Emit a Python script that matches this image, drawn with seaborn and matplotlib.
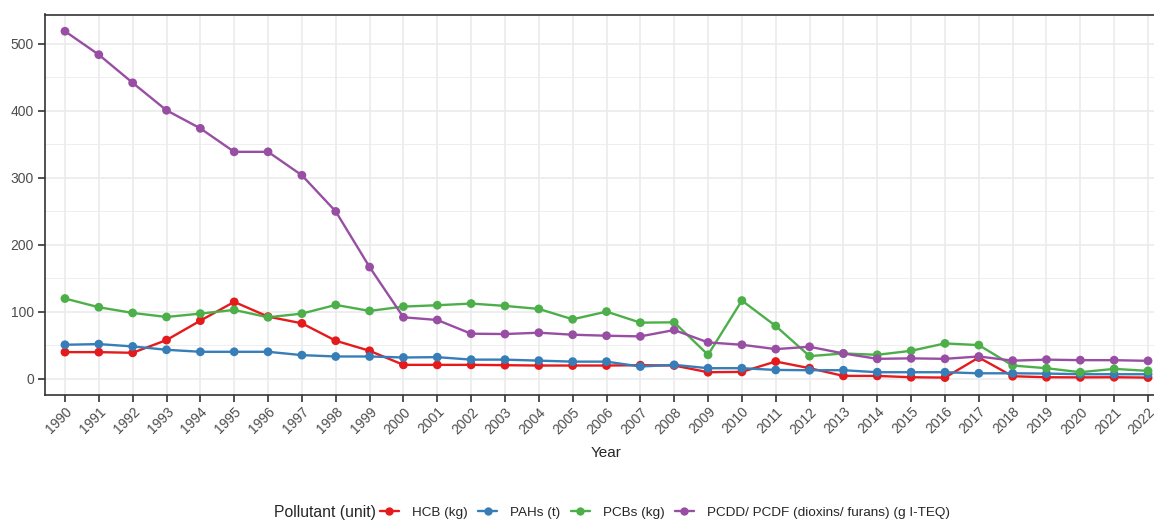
import matplotlib
matplotlib.use('Agg')
import matplotlib.pyplot as plt
from matplotlib.lines import Line2D
from matplotlib.ticker import MultipleLocator
import seaborn as sns
import pandas as pd

# Данные
years = list(range(1990, 2023))

hcb = [40, 40, 39, 58, 87, 115, 93, 83, 57, 42, 21, 21, 21, 20.5, 20, 20, 20, 20.5, 20,
       10, 10.5, 26, 16, 4.5, 4.5, 2.5, 2, 32, 4, 2.5, 2.3, 2.5, 2]
pahs = [51, 52, 48.5, 43.5, 40.5, 40.5, 40.5, 35.5, 33.5, 33.5, 32, 32.5, 28.8, 28.8, 27.3,
        25.8, 25.8, 18.5, 21, 16, 16, 13.4, 13, 13, 10, 10, 10, 8.4, 8.4, 8, 7, 7, 7]
pcbs = [120, 107, 98.5, 92.5, 97.5, 103, 92, 97.5, 110.5, 101.5, 108, 110, 112.5, 109,
        104.5, 89, 100.5, 84, 84.5, 36, 117, 79, 34, 38, 36, 42, 53, 50.5, 20, 16, 10, 15, 12]
pcdd = [519, 484, 442, 401, 374, 339, 339, 304, 250, 167, 92, 88, 67.5, 67, 69, 66, 64.5,
        63.5, 73, 54.5, 51, 44.5, 48, 38, 30, 30.7, 30, 33.5, 27.3, 28.8, 28, 28, 27]

pollutants = ['HCB (kg)', 'PAHs (t)', 'PCBs (kg)', 'PCDD/ PCDF (dioxins/ furans) (g I-TEQ)']
colors = ['#E41A1C', '#377EB8', '#4DAF4A', '#984EA3']

df = pd.DataFrame({
    'Year': years * 4,
    'Value': hcb + pahs + pcbs + pcdd,
    'Pollutant': [p for p in pollutants for _ in years],
})
palette = dict(zip(pollutants, colors))

sns.set_style('white')
plt.rcParams['font.family'] = ['Liberation Sans', 'DejaVu Sans']

W, H = 1154, 524
fig = plt.figure(figsize=(W / 100, H / 100), dpi=100)
# правый край панели обрезан, как на исходной картинке
ax = fig.add_axes([45 / W, 1 - 395 / H, (1168 - 45) / W, (395 - 14.5) / H])

# сначала линии, потом точки (как в ggplot)
sns.lineplot(data=df, x='Year', y='Value', hue='Pollutant', palette=palette,
             linewidth=1.7, ax=ax, legend=False, zorder=3)
sns.scatterplot(data=df, x='Year', y='Value', hue='Pollutant', palette=palette,
                s=40, linewidth=0, ax=ax, legend=False, zorder=4)

ax.set_xlim(1989.41, 2022.59)
ax.set_ylim(-24, 544)
ax.set_xticks(years)
ax.set_xticklabels([str(y) for y in years], rotation=45, ha='right', va='top',
                   rotation_mode='anchor', fontsize=10, color='#4D4D4D')
ax.set_yticks([0, 100, 200, 300, 400, 500])
ax.yaxis.set_minor_locator(MultipleLocator(50))
ax.tick_params(axis='y', labelsize=10, labelcolor='#4D4D4D')
ax.tick_params(which='major', bottom=True, left=True, length=5, width=1.2,
               color='#333333', pad=3)
ax.tick_params(axis='x', pad=2)
ax.tick_params(which='minor', length=0)

ax.grid(which='major', color='#EBEBEB', linewidth=1.2, zorder=0)
ax.grid(which='minor', axis='y', color='#EBEBEB', linewidth=0.6, zorder=0)
ax.set_axisbelow(True)
for s in ax.spines.values():
    s.set_color('#333333')
    s.set_linewidth(1.2)

ax.set_ylabel('')
ax.set_xlabel('Year', fontsize=11)
ax.xaxis.set_label_coords(0.5, -0.135)

# легенда снизу, заголовок в одну строку с ключами
handles = [Line2D([0], [0], color=c, lw=1.7, marker='o', markersize=6,
                  markeredgewidth=0) for c in colors]
fig.text(376 / W, 0.021, 'Pollutant (unit)', ha='right', va='center', fontsize=11.3)
fig.legend(handles, pollutants, loc='center left', bbox_to_anchor=(380 / W, 0.021),
           ncol=4, frameon=False, fontsize=9.7, handlelength=1.4, handletextpad=0.95,
           columnspacing=0.8, borderpad=0, borderaxespad=0)

fig.savefig('out.png', dpi=100)
plt.close(fig)
